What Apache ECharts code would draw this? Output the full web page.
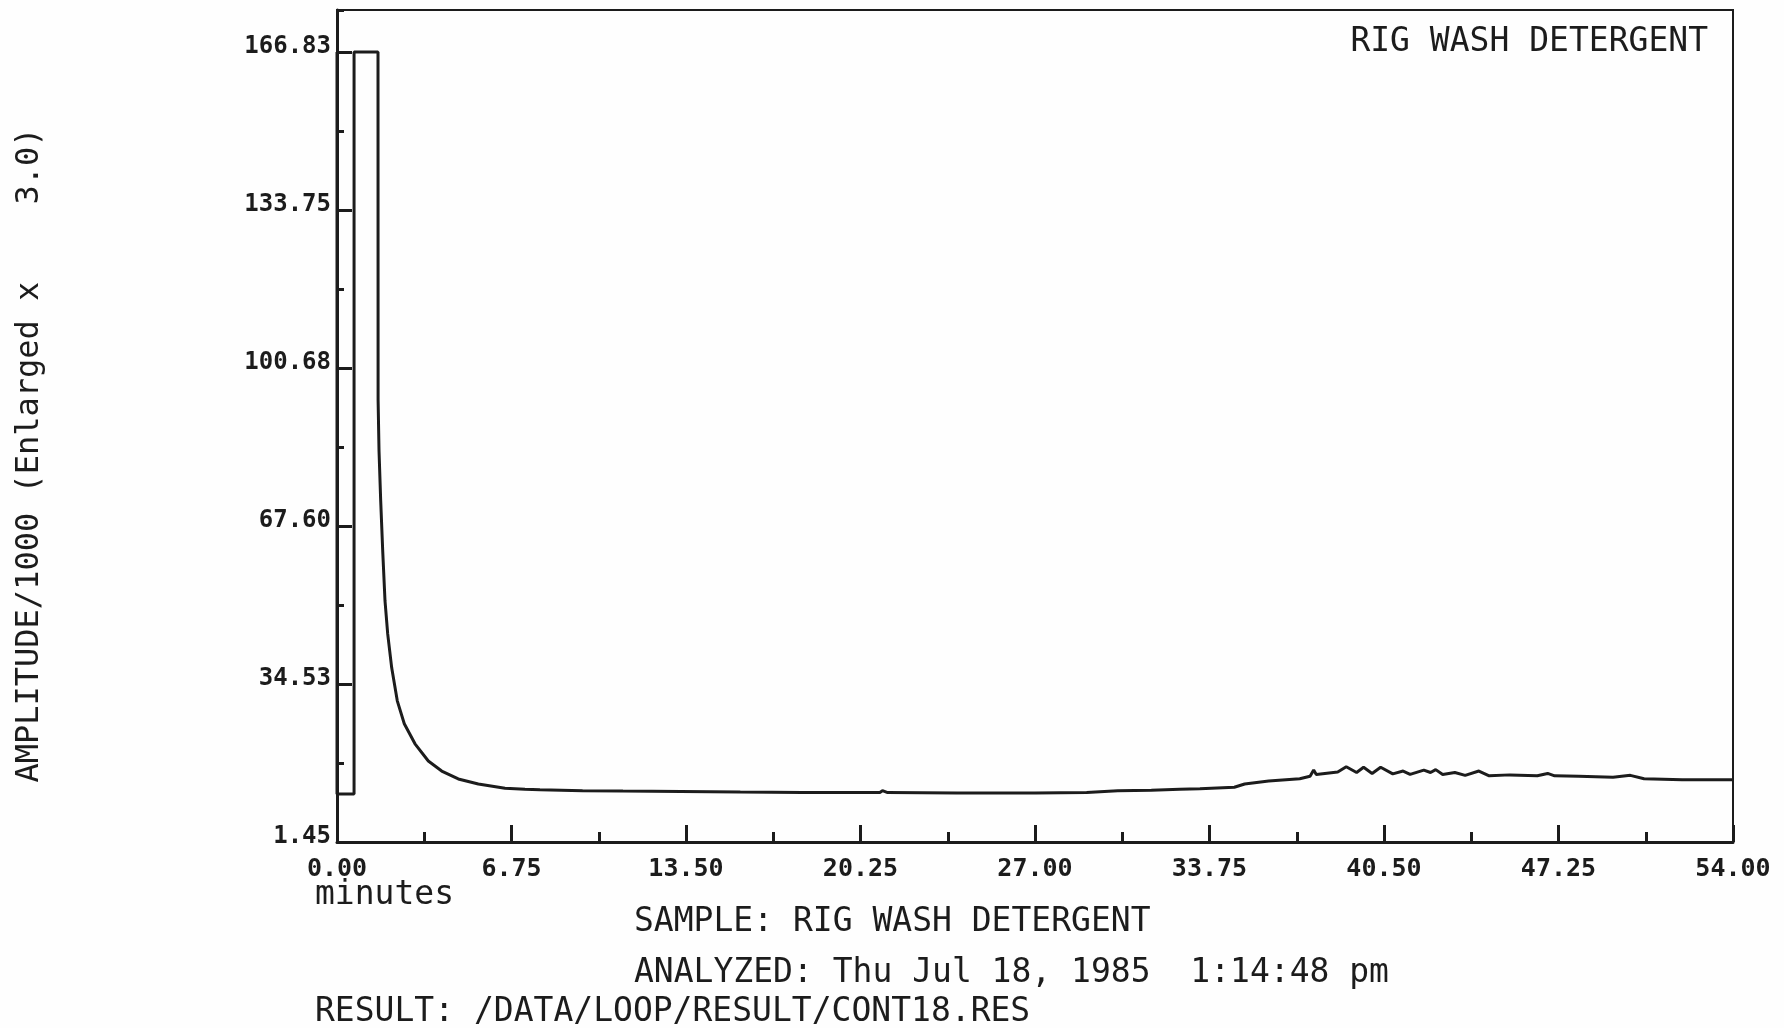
<!DOCTYPE html>
<html>
<head>
<meta charset="utf-8">
<script src="https://cdn.jsdelivr.net/npm/echarts@6/dist/echarts.min.js"></script>
<style>
html,body{margin:0;padding:0;background:#fefefe;}
#chart{width:1784px;height:1028px;}
</style>
</head>
<body>
<div id="chart"></div>
<script>
// ---- data ----
const timeMin = [0, 0, 0.66, 0.66, 1.586, 1.59, 1.625, 1.69, 1.768, 1.857, 1.961, 2.116, 2.332, 2.603, 3.017, 3.532, 4.05, 4.692, 5.466, 6.498, 7.27, 7.85, 9.5, 11.06, 13.3, 15.6, 18.0, 21.0, 21.1, 21.3, 24.0, 27.0, 29.0, 30.2, 31.5, 32.6, 33.38, 34.71, 35.11, 36.04, 37.24, 37.64, 37.78, 37.88, 38.71, 39.04, 39.44, 39.71, 40.04, 40.37, 40.84, 41.24, 41.51, 42.04, 42.3, 42.5, 42.77, 43.24, 43.64, 44.17, 44.57, 45.37, 46.43, 46.83, 47.1, 48.03, 49.36, 50.03, 50.56, 52.03, 54.0];
const amplitude = [166.83, 11.5, 11.5, 166.83, 166.83, 93.9, 83.4, 72.9, 62.4, 51.9, 45.0, 37.9, 31.0, 26.2, 22.0, 18.4, 16.3, 14.65, 13.6, 12.7, 12.5, 12.4, 12.2, 12.1, 12.0, 11.9, 11.8, 11.8, 12.2, 11.8, 11.7, 11.7, 11.8, 12.2, 12.3, 12.5, 12.6, 12.9, 13.6, 14.2, 14.7, 15.2, 16.5, 15.6, 16.1, 17.2, 16.0, 17.1, 15.8, 17.1, 15.7, 16.3, 15.6, 16.5, 16.0, 16.6, 15.6, 16.0, 15.4, 16.3, 15.3, 15.5, 15.3, 15.8, 15.3, 15.2, 15.0, 15.4, 14.7, 14.5, 14.5];
const yTickStart = 1.45;
const yTickStep = 33.076;
const yTop = 175.6;
const xTickStep = 6.75;
const xMax = 54;
const titleText = 'RIG WASH DETERGENT';
const yTitle = 'AMPLITUDE/1000 (Enlarged x    3.0)';
const xUnit = 'minutes';
const footer1 = 'SAMPLE: RIG WASH DETERGENT';
const footer2 = 'ANALYZED: Thu Jul 18, 1985  1:14:48 pm';
const footer3 = 'RESULT: /DATA/LOOP/RESULT/CONT18.RES';

const ink = '#1c1c1c';
const mono = '"DejaVu Sans Mono", "Liberation Mono", monospace';

const points = timeMin.map((t, i) => [t, amplitude[i]]);

const chart = echarts.init(document.getElementById('chart'));
chart.setOption({
  backgroundColor: '#fefefe',
  animation: false,
  grid: {left: 337, right: 51, top: 10, bottom: 186, show: true, borderColor: ink, borderWidth: 2, backgroundColor: 'transparent'},
  xAxis: {
    type: 'value', min: 0, max: xMax, interval: xTickStep,
    axisLine: {lineStyle: {color: ink, width: 3}},
    axisTick: {inside: true, length: 17, lineStyle: {color: ink, width: 3}},
    minorTick: {show: true, splitNumber: 2, length: 10, lineStyle: {color: ink, width: 3}},
    splitLine: {show: false},
    axisLabel: {margin: 15, fontFamily: mono, fontSize: 25, fontWeight: 'bold', color: ink,
      formatter: v => v.toFixed(2)}
  },
  yAxis: [{
    type: 'value', min: yTickStart, max: yTop, interval: yTickStep,
    axisLine: {show: true, lineStyle: {color: ink, width: 3}},
    axisTick: {show: true, inside: true, length: 15, lineStyle: {color: ink, width: 3}},
    splitLine: {show: false},
    axisLabel: {margin: 6, fontFamily: mono, fontSize: 24, fontWeight: 'bold', color: ink,
      verticalAlign: 'bottom', lineHeight: 10, showMaxLabel: false,
      formatter: v => (Math.abs(v - yTop) < 1e-6 ? '' : v.toFixed(2))}
  }, {
    type: 'value', min: yTickStart, max: yTop, interval: yTickStep / 2, position: 'left',
    axisLine: {show: false},
    axisTick: {show: true, inside: true, length: 7, lineStyle: {color: ink, width: 3}},
    splitLine: {show: false},
    axisLabel: {show: false}
  }],
  series: [{
    type: 'line', yAxisIndex: 0, showSymbol: false, symbol: 'none', smooth: false,
    lineStyle: {color: ink, width: 3}, sampling: null,
    data: points
  }],
  graphic: [
    {type: 'text', right: 76, top: 26, style: {text: titleText, font: '33px ' + mono, fill: ink}},
    {type: 'text', x: 30, y: 455, rotation: Math.PI / 2,
      style: {text: yTitle, font: '32px ' + mono, fill: ink, textAlign: 'center', textVerticalAlign: 'middle'}},
    {type: 'text', left: 315, top: 879, style: {text: xUnit, font: '33px ' + mono, fill: ink}},
    {type: 'text', left: 634, top: 906, style: {text: footer1, font: '33px ' + mono, fill: ink}},
    {type: 'text', left: 634, top: 957, style: {text: footer2, font: '33px ' + mono, fill: ink}},
    {type: 'text', left: 315, top: 996, style: {text: footer3, font: '33px ' + mono, fill: ink}}
  ]
});
</script>
</body>
</html>
